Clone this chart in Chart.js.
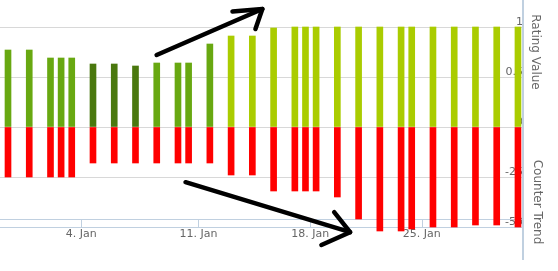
<!DOCTYPE html>
<html><head><meta charset="utf-8">
<script src="https://cdn.jsdelivr.net/npm/chart.js@4.4.1/dist/chart.umd.min.js"></script>
<style>html,body{margin:0;padding:0;background:#fff;overflow:hidden}#wrap{width:558px;height:271px;position:relative}</style>
</head><body><div id="wrap"><canvas id="c" width="558" height="271"></canvas></div>
<script>
// ---- data ----
const barSlots = [0,2,4,5,6,8,10,12,14,16,17,19,21,23,25,27,28,29,31,33,35,37,38,40,42,44,46,48];
const ratingValues = [0.77,0.77,0.69,0.69,0.69,0.63,0.63,0.61,0.64,0.64,0.64,0.83,0.91,0.91,0.99,1,1,1,1,1,1,1,1,1,1,1,1,1];
const ratingBand = ['mid','mid','mid','mid','mid','dark','dark','dark','mid','mid','mid','mid',
  'light','light','light','light','light','light','light','light','light','light','light','light','light','light','light','light'];
const counterTrend = [-25,-25,-25,-25,-25,-18,-18,-18,-18,-18,-18,-18,-24,-24,-32,-32,-32,-32,-35,-46,-52,-52,-51,-50,-50,-49,-49,-50];
const tickSlots = [6.9,17.93,28.44,38.94];
const tickLabels = ['4. Jan','11. Jan','18. Jan','25. Jan'];
const ratingTicks = [0,0.5,1];
const counterTicks = [0,-25,-50];
const axisTitles = ['Rating Value','Counter Trend'];
// annotation arrows in data coordinates [slot, value]
const upArrow = [[13.99,0.72],[23.94,1.18]];
const upArrowHead = [[21.13,1.155],[23.94,1.18],[23.29,0.98]];
const downArrow = [[16.71,-27.6],[32.2,-52.6]];
const downArrowHead = [[30.7,-42.6],[32.2,-52.6],[29.5,-59]];

// ---- styles ----
const bandColors = {dark:'#4A780E', mid:'#68A811', light:'#AACC00'};
const labelColor = '#666666';
Chart.defaults.font.family = 'DejaVu Sans';

function line(ctx, pts, sx, sy){
  ctx.beginPath();
  pts.forEach((p,i)=>{const X=sx.getPixelForValue(p[0]), Y=sy.getPixelForValue(p[1]); i?ctx.lineTo(X,Y):ctx.moveTo(X,Y);});
  ctx.stroke();
}

const decor = {
  id:'decor',
  beforeDatasetsDraw(chart){
    const {ctx, chartArea:a, scales:{x}} = chart;
    ctx.save();
    ctx.strokeStyle = '#C0D0E0'; ctx.lineWidth = 1;
    const yl = a.bottom - 8;
    ctx.beginPath();
    ctx.moveTo(a.left, yl + 0.5); ctx.lineTo(a.right, yl + 0.5);
    tickSlots.forEach(v=>{const px = Math.round(x.getPixelForValue(v)) + 0.5; ctx.moveTo(px, yl); ctx.lineTo(px, a.bottom);});
    ctx.stroke();
    ctx.restore();
  },
  afterDraw(chart){
    const {ctx, chartArea:a, scales:{x, yR, yC}} = chart;
    ctx.save();
    // right axis line
    ctx.strokeStyle = '#C0D0E0'; ctx.lineWidth = 2;
    ctx.beginPath(); ctx.moveTo(a.right + 1, 0); ctx.lineTo(a.right + 1, 260); ctx.stroke();
    // axis titles
    ctx.fillStyle = labelColor; ctx.font = '12px "DejaVu Sans"';
    ctx.textAlign = 'center'; ctx.textBaseline = 'middle';
    [[axisTitles[0], 535, 52],[axisTitles[1], 537, 202]].forEach(([t,cx,cy])=>{
      ctx.save(); ctx.translate(cx, cy); ctx.rotate(Math.PI/2); ctx.fillText(t, 0, 0); ctx.restore();
    });
    // arrows
    ctx.strokeStyle = '#000'; ctx.lineWidth = 4.5; ctx.lineCap = 'round'; ctx.lineJoin = 'round';
    line(ctx, upArrow, x, yR); line(ctx, upArrowHead, x, yR);
    line(ctx, downArrow, x, yC); line(ctx, downArrowHead, x, yC);
    ctx.restore();
  }
};

const yCommon = (ticksArr, hideZero) => ({
  type:'linear', position:'right', stack:'v', stackWeight:1,
  afterBuildTicks: s => { s.ticks = ticksArr.map(v=>({value:v})); },
  afterFit: s => { s.width = 36; },
  ticks:{mirror:true, padding:1, labelOffset:-5, color:labelColor, font:{size:11},
    callback:(v)=> (hideZero && v===0) ? '' : String(v)},
  grid:{drawTicks:false, color: c => (c.tick && c.tick.value === -50) ? '#C0D0E0' : '#D8D8D8'},
  border:{display:false}
});

new Chart(document.getElementById('c'), {
  type:'bar',
  data:{datasets:[
    {label:axisTitles[0], data: barSlots.map((s,i)=>({x:s, y:ratingValues[i]})), yAxisID:'yR',
     backgroundColor: ratingBand.map(b=>bandColors[b]), barThickness:6, grouped:false, clip:false},
    {label:axisTitles[1], data: barSlots.map((s,i)=>({x:s, y:counterTrend[i]})), yAxisID:'yC',
     backgroundColor:'#FF0000', barThickness:6, grouped:false, clip:false}
  ]},
  options:{
    responsive:false, animation:false, devicePixelRatio:1,
    layout:{padding:{top:27, left:0, right:0, bottom:0}},
    plugins:{legend:{display:false}, tooltip:{enabled:false}},
    scales:{
      x:{type:'linear', min:-0.753, max:48.38, offset:false,
        afterBuildTicks: s => { s.ticks = tickSlots.map(v=>({value:v})); },
        afterFit: s => { s.height = 44; },
        ticks:{autoSkip:false, maxRotation:0, padding:1, color:labelColor, font:{size:11},
          callback:(v, i)=> tickLabels[i]},
        grid:{display:false, drawTicks:false}, border:{display:false}},
      yR: Object.assign(yCommon(ratingTicks, false), {min:0, max:1}),
      yC: Object.assign(yCommon(counterTicks, true), {min:-50, max:0})
    }
  },
  plugins:[decor]
});
</script></body></html>
